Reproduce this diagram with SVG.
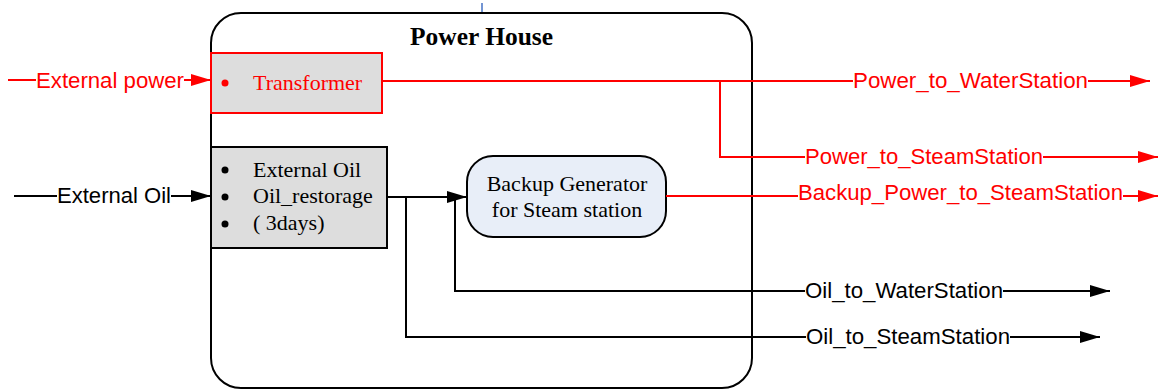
<svg xmlns="http://www.w3.org/2000/svg" width="1159" height="389" viewBox="0 0 1159 389">
<defs>
<style>
.red{stroke:#FF0000;stroke-width:2;fill:none}
.blk{stroke:#000;stroke-width:2;fill:none}
.lbl{font-family:"Liberation Sans",Arial,sans-serif;font-size:22px}
.tms{font-family:"Liberation Serif","Times New Roman",serif;font-size:22px}
.rt{fill:#FF0000}
.bt{fill:#000}
</style>
<marker id="ar" viewBox="0 0 20 12" refX="20" refY="6" markerWidth="20" markerHeight="12" markerUnits="userSpaceOnUse" orient="auto"><path d="M0,0 L20,6 L0,12 Z" fill="#FF0000"/></marker>
<marker id="ab" viewBox="0 0 20 12" refX="20" refY="6" markerWidth="20" markerHeight="12" markerUnits="userSpaceOnUse" orient="auto"><path d="M0,0 L20,6 L0,12 Z" fill="#000"/></marker>
</defs>
<rect width="1159" height="389" fill="#fff"/>
<line x1="482" y1="3" x2="482" y2="13" stroke="#4472C4" stroke-width="1.5"/>
<g id="power-house">
<rect x="211" y="13" width="541" height="375" rx="30" ry="30" fill="#fff" stroke="#000" stroke-width="2"/>
<text x="410" y="45" textLength="143" lengthAdjust="spacingAndGlyphs" font-family="'Liberation Serif','Times New Roman',serif" font-size="25" font-weight="bold">Power House</text>
</g>
<g id="transformer">
<rect x="211" y="53" width="171" height="60" fill="#DDDDDD" stroke="#FF0000" stroke-width="2"/>
<circle cx="225" cy="83" r="3.5" fill="#FF0000"/>
<text x="253" y="90" class="tms rt">Transformer</text>
</g>
<g id="oil-storage">
<rect x="211" y="147" width="176" height="101" fill="#DDDDDD" stroke="#000" stroke-width="2"/>
<circle cx="225" cy="170" r="3.5"/>
<circle cx="225" cy="197" r="3.5"/>
<circle cx="225" cy="224" r="3.5"/>
<text x="253" y="177" class="tms">External Oil</text>
<text x="253" y="203" class="tms">Oil_restorage</text>
<text x="253" y="230" class="tms">( 3days)</text>
</g>
<g id="backup-generator">
<rect x="467" y="156" width="199" height="81" rx="26" ry="26" fill="#E8EEF8" stroke="#000" stroke-width="2"/>
<text x="567" y="191" text-anchor="middle" class="tms" font-size="21">Backup Generator</text>
<text x="567" y="217" text-anchor="middle" class="tms" font-size="21">for Steam station</text>
</g>
<g id="connectors">
<line x1="8" y1="80" x2="36" y2="80" class="red"/>
<line x1="184" y1="80" x2="211" y2="80" class="red" marker-end="url(#ar)"/>
<text x="36" y="88" class="lbl rt" textLength="148" lengthAdjust="spacingAndGlyphs">External power</text>
<line x1="382" y1="81" x2="853" y2="81" class="red"/>
<line x1="1088" y1="81" x2="1150" y2="81" class="red" marker-end="url(#ar)"/>
<text x="853" y="88" class="lbl rt" textLength="235" lengthAdjust="spacingAndGlyphs">Power_to_WaterStation</text>
<polyline points="720,81 720,157 805,157" class="red"/>
<line x1="1043" y1="157" x2="1158" y2="157" class="red" marker-end="url(#ar)"/>
<text x="805" y="164" class="lbl rt" textLength="238" lengthAdjust="spacingAndGlyphs">Power_to_SteamStation</text>
<line x1="666" y1="196" x2="798" y2="196" class="red"/>
<line x1="1123" y1="196" x2="1158" y2="196" class="red" marker-end="url(#ar)"/>
<text x="798" y="200" class="lbl rt" textLength="325" lengthAdjust="spacingAndGlyphs">Backup_Power_to_SteamStation</text>
<line x1="14" y1="196" x2="57" y2="196" class="blk"/>
<line x1="171" y1="196" x2="211" y2="196" class="blk" marker-end="url(#ab)"/>
<text x="57" y="203" class="lbl bt" textLength="114" lengthAdjust="spacingAndGlyphs">External Oil</text>
<line x1="387" y1="197" x2="467" y2="197" class="blk" marker-end="url(#ab)"/>
<polyline points="455,197 455,291 805,291" class="blk"/>
<line x1="1003" y1="291" x2="1110" y2="291" class="blk" marker-end="url(#ab)"/>
<text x="805" y="298" class="lbl bt" textLength="198" lengthAdjust="spacingAndGlyphs">Oil_to_WaterStation</text>
<polyline points="406,197 406,337 806,337" class="blk"/>
<line x1="1010" y1="337" x2="1100" y2="337" class="blk" marker-end="url(#ab)"/>
<text x="806" y="344" class="lbl bt" textLength="204" lengthAdjust="spacingAndGlyphs">Oil_to_SteamStation</text>
</g>
</svg>
